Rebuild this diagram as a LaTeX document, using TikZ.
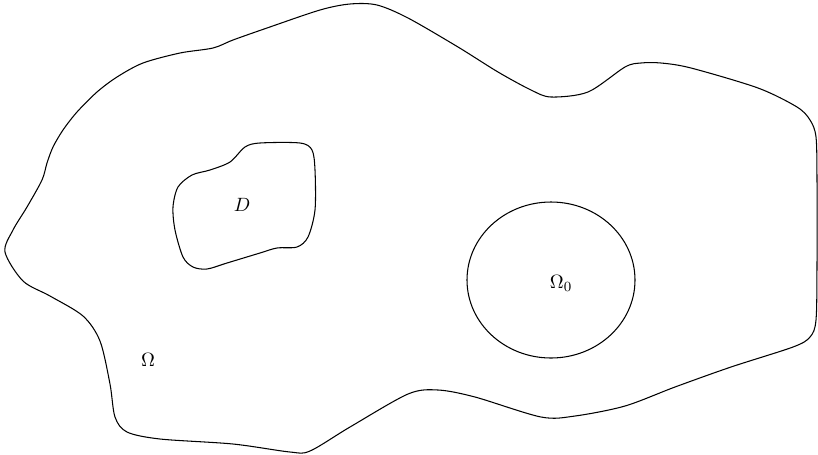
\documentclass[tikz,border=0pt]{standalone}
\usepackage{amsmath,amssymb}
\usetikzlibrary{calc}

\begin{document}
\begin{tikzpicture}[x=0.02cm,y=-0.02cm,font=\fontsize{11}{13}\selectfont,
        bdry/.style={draw=black,line width=0.6pt,line join=round},
        lbl/.style={inner sep=1pt}]
        \useasboundingbox (0,0) rectangle (818,454);
        % outer domain
        \draw[bdry] plot[smooth cycle,tension=0.5] coordinates {
          (213,48) (180,53) (143,63) (117,77) (97,92) (77,112) (63,130)
          (53,147) (47,163) (42,180) (27,207) (13,230) (5,252) (23,281)
          (50,296) (83,316) (100,341) (110,384) (115,417) (127,432)
          (160,439) (233,444) (290,452) (310,451) (350,427) (408,394)
          (438,390) (475,397) (541,417) (575,416) (625,406) (675,387)
          (731,367) (793,347) (810,337) (816,320) (817,264) (817,180)
          (816,137) (810,120) (797,107) (758,88) (691,68) (661,63)
          (641,63) (625,67) (588,92) (551,97) (531,90) (498,72) (458,47)
          (408,18) (377,5) (350,4) (320,10) (267,28) (233,40)};
        % inclusion D
        \draw[bdry] plot[smooth cycle,tension=0.5] coordinates {
          (245,147) (260,143) (300,143) (312,150) (315,170) (315,210)
          (308,237) (297,247) (277,248) (260,253) (227,263) (207,269)
          (193,267) (183,257) (175,230) (173,207) (178,187) (192,175)
          (210,170) (230,162)};
        % subdomain
        \draw[bdry] (551,280) ellipse [x radius=84,y radius=78];
        \node[lbl] (d) at (242,205) {$D$};
        \node[lbl] (om0) at (561,283) {$\Omega_0$};
        \node[lbl] (om) at (148,360) {$\Omega$};
      \end{tikzpicture}
\end{document}
